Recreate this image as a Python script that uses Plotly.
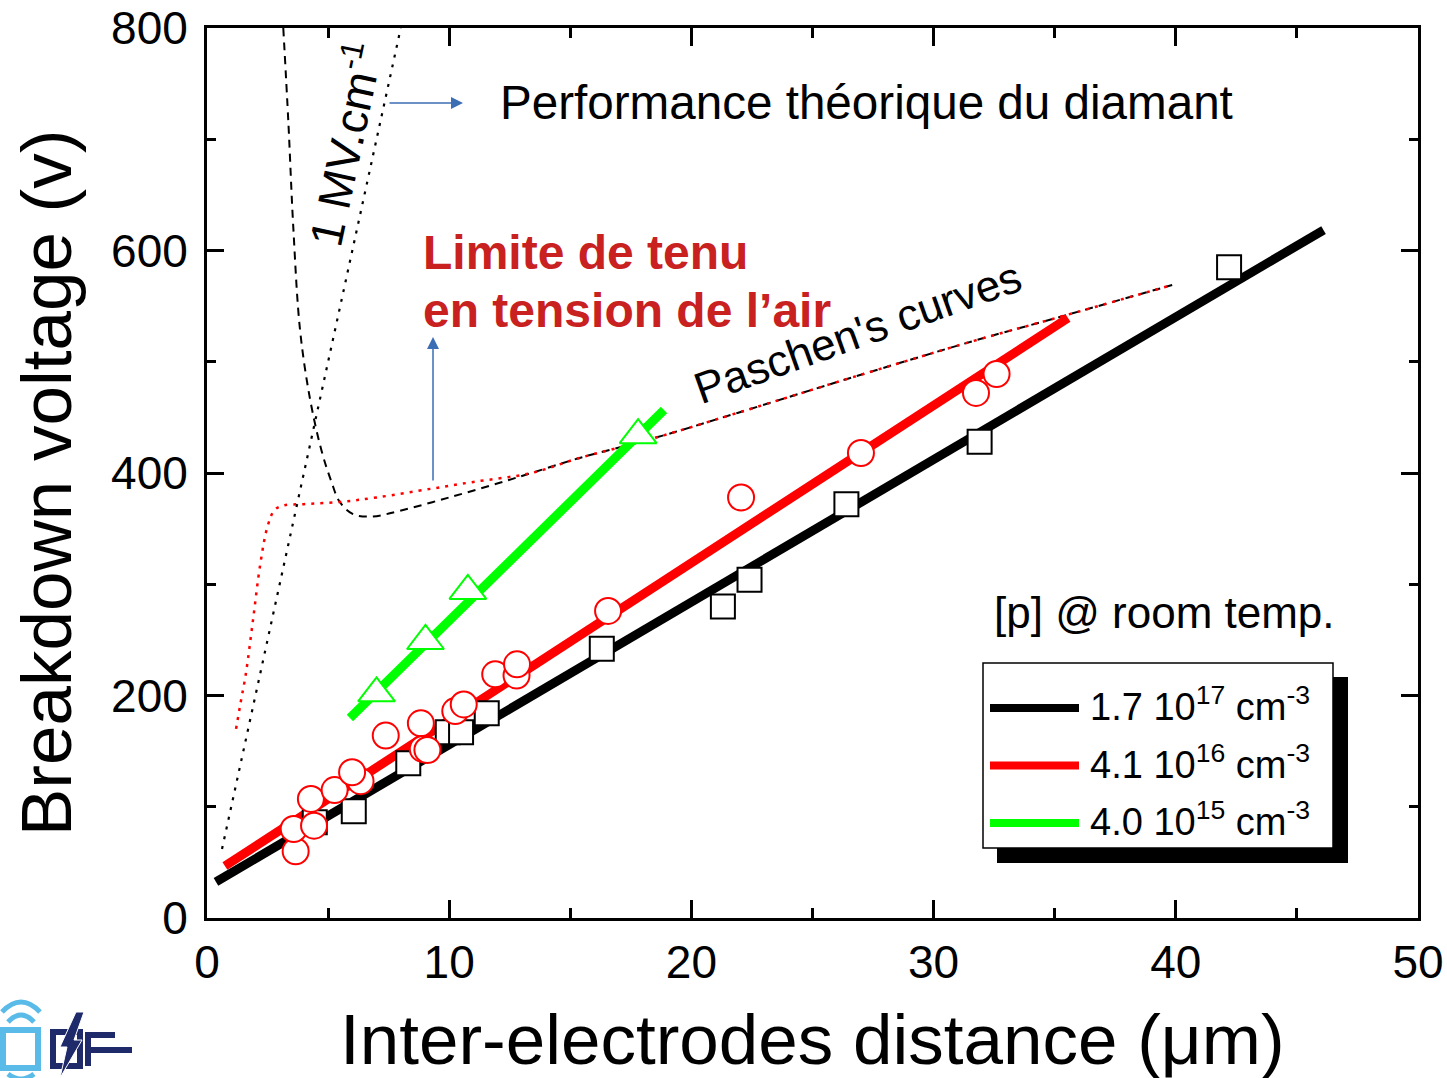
import plotly.graph_objects as go

# ---- measured data -------------------------------------------------------
# p = 1.7e17 cm-3 (black squares) and its linear fit
d_17 = [4.45, 6.06, 8.31, 9.94, 10.49, 11.55, 16.3, 21.3, 22.4, 26.4, 31.9, 42.2]
v_17 = [86, 96, 139, 167, 167, 184, 242, 280, 304, 372, 428, 585]
fit_17_d = [0.37, 46.1]
fit_17_v = [32.4, 618.4]

# p = 4.1e16 cm-3 (red circles) and its linear fit
d_16 = [3.66, 3.58, 4.42, 4.29, 5.27, 6.34, 5.99, 7.38, 8.83, 8.91, 9.1,
        10.25, 10.6, 11.9, 12.78, 12.8, 16.56, 22.05, 27.0, 31.75, 32.6]
v_16 = [60, 80, 83, 107, 115, 123, 131, 164, 175, 152, 151,
        186, 192, 219, 218, 228, 276, 378, 418, 472, 489]
fit_16_d = [0.74, 35.55]
fit_16_v = [46.7, 539.3]

# p = 4.0e15 cm-3 (green triangles) and its linear fit
d_15 = [7.0, 9.02, 10.77, 17.8]
v_15 = [202, 249, 294, 434]
fit_15_d = [5.9, 18.87]
fit_15_v = [179.8, 456.6]

# Paschen curve of air (red dotted)
air_d = [1.2, 1.4, 1.6, 1.9, 2.2, 2.5, 2.8, 3.2, 4.0, 5.5, 7.0, 9.3, 11.0,
         13.4, 15.3, 18.4, 21.9, 26.8, 31.7, 35.0, 39.85]
air_v = [170, 195, 219, 268, 318, 352, 367, 371, 372, 374, 378, 386, 392,
         400, 413, 431, 454, 487, 519, 539, 569]

# second Paschen curve (black dashed)
pas_d = [3.15, 3.36, 3.56, 3.84, 4.25, 4.73, 5.14, 5.48, 6.03, 6.85, 7.95,
         10.0, 12.05, 13.4, 15.3, 18.4, 21.9, 26.8, 31.7, 35.0, 39.85]
pas_v = [800, 715, 622, 529, 467, 420, 392, 374, 363, 361, 366,
         378, 391, 400, 413, 431, 454, 487, 519, 539, 569]

# 1 MV/cm limit: V = 100 V/um * d
field_d = [0.62, 8.0]
field_v = [62, 800]

x_ticks = [0, 10, 20, 30, 40, 50]
y_ticks = [0, 200, 400, 600, 800]

legend_labels = ["1.7 10<sup>17</sup> cm<sup>-3</sup>",
                 "4.1 10<sup>16</sup> cm<sup>-3</sup>",
                 "4.0 10<sup>15</sup> cm<sup>-3</sup>"]
legend_colors = ["#000000", "#ff0000", "#00ff00"]

FONT = "Liberation Sans, Arial, sans-serif"
W, H = 1447, 1078
L, R, T, B = 207, 1418, 28, 918


def px(xp):
    return (xp - L) / (R - L)


def py(yp):
    return (B - yp) / (B - T)


fig = go.Figure()

# Paschen curves
fig.add_trace(go.Scatter(x=pas_d, y=pas_v, mode="lines",
                         line=dict(color="black", width=2, dash="8px,6px"),
                         line_shape="spline", showlegend=False))
fig.add_trace(go.Scatter(x=air_d, y=air_v, mode="lines",
                         line=dict(color="#ff0000", width=2.5, dash="3px,6px"),
                         line_shape="spline", showlegend=False))
fig.add_trace(go.Scatter(x=field_d, y=field_v, mode="lines",
                         line=dict(color="black", width=2.2, dash="3px,7px"),
                         showlegend=False))

# linear fits
for dd, vv, col in [(fit_17_d, fit_17_v, "#000000"),
                    (fit_16_d, fit_16_v, "#ff0000"),
                    (fit_15_d, fit_15_v, "#00ff00")]:
    fig.add_trace(go.Scatter(x=dd, y=vv, mode="lines",
                             line=dict(color=col, width=9), showlegend=False))

# measured points
fig.add_trace(go.Scatter(x=d_17, y=v_17, mode="markers", showlegend=False,
                         marker=dict(symbol="square", size=24, color="white",
                                     line=dict(color="black", width=2))))
fig.add_trace(go.Scatter(x=d_16, y=v_16, mode="markers", showlegend=False,
                         marker=dict(symbol="circle", size=26, color="white",
                                     line=dict(color="#ff0000", width=2))))
fig.add_trace(go.Scatter(x=d_15, y=v_15, mode="markers", showlegend=False,
                         marker=dict(symbol="triangle-up", size=32, color="white",
                                     line=dict(color="#00ff00", width=2))))

ann = []
# axis titles
ann.append(dict(x=px(812), y=py(1039), xref="paper", yref="paper",
                text="Inter-electrodes distance (μm)", showarrow=False,
                font=dict(family=FONT, size=71, color="black"),
                xanchor="center", yanchor="middle"))
ann.append(dict(x=px(46), y=py(483), xref="paper", yref="paper",
                text="Breakdown voltage (v)", showarrow=False, textangle=-90,
                font=dict(family=FONT, size=71, color="black"),
                xanchor="center", yanchor="middle"))
# in-plot texts
ann.append(dict(x=px(498), y=py(103), xref="paper", yref="paper",
                text="Performance théorique du diamant", showarrow=False,
                font=dict(family=FONT, size=47.6, color="black"),
                xanchor="left", yanchor="middle"))
ann.append(dict(x=px(421), y=py(253), xref="paper", yref="paper",
                text="<b>Limite de tenu</b>", showarrow=False,
                font=dict(family=FONT, size=48, color="#c8211f"),
                xanchor="left", yanchor="middle"))
ann.append(dict(x=px(421), y=py(310), xref="paper", yref="paper",
                text="<b>en tension de l’air</b>", showarrow=False,
                font=dict(family=FONT, size=48, color="#c8211f"),
                xanchor="left", yanchor="middle"))
ann.append(dict(x=px(857), y=py(333), xref="paper", yref="paper",
                text="Paschen's curves", showarrow=False, textangle=-19.6,
                font=dict(family=FONT, size=44, color="black"),
                xanchor="center", yanchor="middle"))
ann.append(dict(x=px(343), y=py(144), xref="paper", yref="paper",
                text="1 MV.cm<sup>-1</sup>", showarrow=False, textangle=-78,
                font=dict(family=FONT, size=46, color="black"),
                xanchor="center", yanchor="middle"))
ann.append(dict(x=px(1164), y=py(612), xref="paper", yref="paper",
                text="[p] @ room temp.", showarrow=False,
                font=dict(family=FONT, size=44, color="black"),
                xanchor="center", yanchor="middle"))
# blue arrows
ann.append(dict(x=px(463), y=py(103), xref="paper", yref="paper", text="",
                showarrow=True, ax=-75, ay=0, arrowhead=2, arrowsize=1.6,
                arrowwidth=1.5, arrowcolor="#3c6eb4"))
ann.append(dict(x=px(433), y=py(337), xref="paper", yref="paper", text="",
                showarrow=True, ax=0, ay=145, arrowhead=2, arrowsize=1.6,
                arrowwidth=1.5, arrowcolor="#3c6eb4"))

shapes = []
# legend box with drop shadow
shapes.append(dict(type="rect", xref="paper", yref="paper",
                   x0=px(997), x1=px(1348), y0=py(677), y1=py(863),
                   fillcolor="black", line=dict(width=0), layer="above"))
shapes.append(dict(type="rect", xref="paper", yref="paper",
                   x0=px(983), x1=px(1333), y0=py(663), y1=py(848),
                   fillcolor="white", line=dict(color="black", width=1.5),
                   layer="above"))
for i, (lab, col) in enumerate(zip(legend_labels, legend_colors)):
    yrow = 708 + 57.5 * i
    shapes.append(dict(type="line", xref="paper", yref="paper",
                       x0=px(990), x1=px(1079), y0=py(yrow), y1=py(yrow),
                       line=dict(color=col, width=8), layer="above"))
    ann.append(dict(x=px(1088), y=py(yrow - 4), xref="paper", yref="paper",
                    text=lab, showarrow=False,
                    font=dict(family=FONT, size=38, color="black"),
                    xanchor="left", yanchor="middle"))

# small logo in the lower left corner
LB = "#5bbbe8"
NV = "#1f2a6b"


def pth(points, close=True):
    s = "M " + " L ".join(f"{px(a):.5f},{py(b):.5f}" for a, b in points)
    return s + (" Z" if close else "")


def qarc(x0, y0, xc, yc, x1, y1):
    return (f"M {px(x0):.5f},{py(y0):.5f} Q {px(xc):.5f},{py(yc):.5f} "
            f"{px(x1):.5f},{py(y1):.5f}")


shapes.append(dict(type="rect", xref="paper", yref="paper",
                   x0=px(3), x1=px(38), y0=py(1030), y1=py(1068),
                   line=dict(color=LB, width=6), fillcolor="rgba(0,0,0,0)"))
shapes.append(dict(type="path", xref="paper", yref="paper",
                   path=qarc(8, 1022, 21, 1008, 34, 1022),
                   line=dict(color=LB, width=5)))
shapes.append(dict(type="path", xref="paper", yref="paper",
                   path=qarc(2, 1012, 21, 992, 40, 1012),
                   line=dict(color=LB, width=5)))
shapes.append(dict(type="path", xref="paper", yref="paper",
                   path=qarc(8, 1074, 21, 1084, 34, 1074),
                   line=dict(color=LB, width=5)))
shapes.append(dict(type="rect", xref="paper", yref="paper",
                   x0=px(53), x1=px(80), y0=py(1032), y1=py(1066),
                   line=dict(color=NV, width=6), fillcolor="rgba(0,0,0,0)"))
shapes.append(dict(type="path", xref="paper", yref="paper",
                   path=pth([(76, 1012), (84, 1012), (74, 1040), (82, 1040),
                             (60, 1078), (67, 1047), (60, 1047)]),
                   fillcolor=NV, line=dict(color="white", width=1)))
shapes.append(dict(type="line", xref="paper", yref="paper",
                   x0=px(88), x1=px(88), y0=py(1032), y1=py(1066),
                   line=dict(color=NV, width=6)))
shapes.append(dict(type="line", xref="paper", yref="paper",
                   x0=px(88), x1=px(115), y0=py(1035), y1=py(1035),
                   line=dict(color=NV, width=6)))
shapes.append(dict(type="line", xref="paper", yref="paper",
                   x0=px(88), x1=px(132), y0=py(1050), y1=py(1050),
                   line=dict(color=NV, width=6)))

axis_common = dict(showline=True, linecolor="black", linewidth=3,
                   mirror="ticks", ticks="inside", tickwidth=3,
                   tickcolor="black", showgrid=False, zeroline=False,
                   automargin=False,
                   tickfont=dict(family=FONT, size=46, color="black"))

fig.update_xaxes(range=[0, 50], tickvals=x_ticks, ticklen=18,
                 ticklabelstandoff=2,
                 minor=dict(ticks="inside", dtick=5, ticklen=10, tickwidth=3,
                            tickcolor="black"),
                 **axis_common)
fig.update_yaxes(range=[0, 800], tickvals=y_ticks, ticklen=17,
                 ticklabelstandoff=7,
                 minor=dict(ticks="inside", dtick=100, ticklen=9, tickwidth=3,
                            tickcolor="black"),
                 **axis_common)

fig.update_layout(width=W, height=H, autosize=False,
                  margin=dict(l=L, r=W - R, t=T, b=H - B, autoexpand=False),
                  paper_bgcolor="white", plot_bgcolor="white",
                  annotations=ann, shapes=shapes, showlegend=False,
                  font=dict(family=FONT, color="black"))

fig.write_html("out.html", config={"displayModeBar": False})
